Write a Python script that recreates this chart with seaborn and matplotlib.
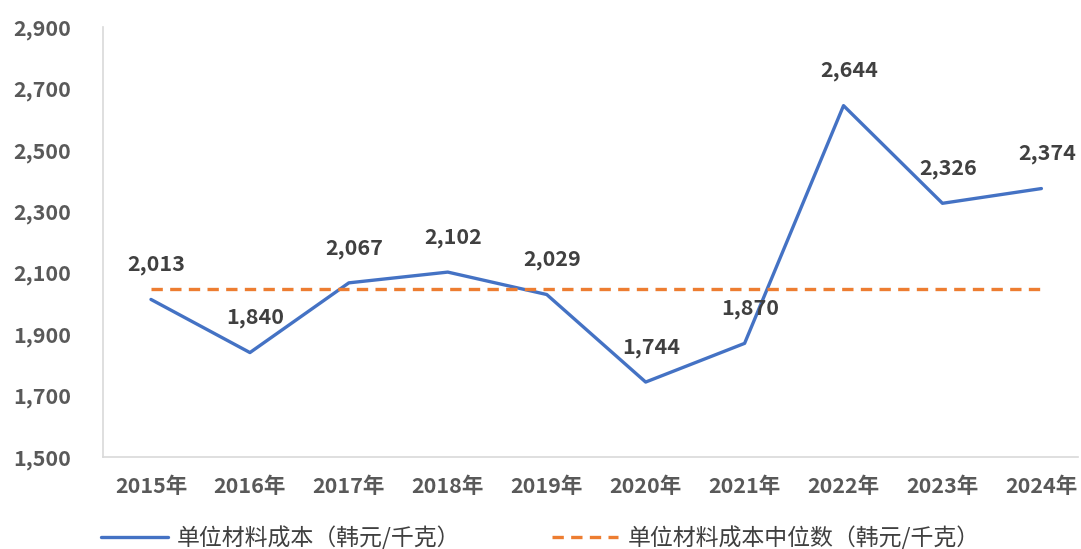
import seaborn as sns
import matplotlib.pyplot as plt
import pandas as pd
import numpy as np

years = ["2015年", "2016年", "2017年", "2018年", "2019年",
         "2020年", "2021年", "2022年", "2023年", "2024年"]
unit_cost = [2013, 1840, 2067, 2102, 2029, 1744, 1870, 2644, 2326, 2374]
cost_name = "单位材料成本（韩元/千克）"
median_name = "单位材料成本中位数（韩元/千克）"
y_ticks = [1500, 1700, 1900, 2100, 2300, 2500, 2700, 2900]

median_cost = float(np.median(unit_cost))

df = pd.DataFrame({"year": years, "cost": unit_cost, "idx": range(len(years))})

sns.set_style("white")
plt.rcParams["font.family"] = ["Noto Sans CJK SC", "DejaVu Sans"]

fig = plt.figure(figsize=(10.81, 5.49), dpi=100)
ax = fig.add_axes([103 / 1081, 1 - 457 / 549, 975 / 1081, 430 / 549])

blue = "#4472C4"
orange = "#ED7D31"

sns.lineplot(data=df, x="idx", y="cost", ax=ax, color=blue, linewidth=2.4,
             label=cost_name)
ax.plot(df["idx"], [median_cost] * len(df), color=orange, linewidth=2.4,
        dashes=(3.4, 2.2), label=median_name)

# data labels above points
for i, v in zip(df["idx"], df["cost"]):
    ax.annotate(f"{v:,}", (i, v), xytext=(4, 25), textcoords="offset points",
                ha="center", va="center", fontsize=15.5, color="#404040",
                fontweight="bold")

ax.set_xlim(-0.485, 9.37)
ax.set_ylim(1500, 2900)
ax.set_xticks(df["idx"])
ax.set_xticklabels(years)
ax.set_yticks(y_ticks)
ax.set_yticklabels([f"{t:,}" for t in y_ticks])
ax.set_xlabel("")
ax.set_ylabel("")
ax.tick_params(axis="both", length=0, labelsize=15.5, labelcolor="#595959")
ax.tick_params(axis="x", pad=14)
ax.tick_params(axis="y", pad=23)
for lab in ax.get_xticklabels() + ax.get_yticklabels():
    lab.set_fontweight("bold")
for side in ["top", "right"]:
    ax.spines[side].set_visible(False)
for side in ["left", "bottom"]:
    ax.spines[side].set_color("#D9D9D9")
    ax.spines[side].set_linewidth(1.2)

ax.get_legend().remove()
handles, labels = ax.get_legend_handles_labels()
fig.legend(handles, labels, loc="center", bbox_to_anchor=(0.5, 1 - 538 / 549),
           ncol=2, frameon=False, fontsize=16.5, handlelength=2.9,
           handletextpad=0.4, columnspacing=4.0, labelcolor="#404040")

plt.savefig("out.png", dpi=100)
